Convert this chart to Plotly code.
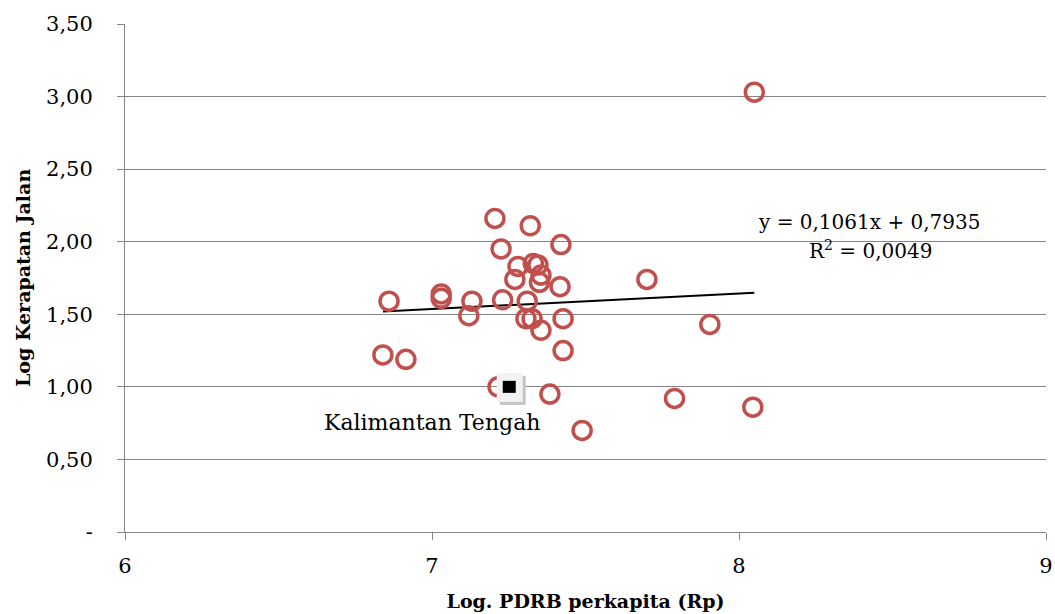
import plotly.graph_objects as go

# Data
log_pdrb = [6.86, 6.84, 6.915, 7.03, 7.03, 7.13, 7.12, 7.205, 7.225, 7.23,
            7.215, 7.32, 7.27, 7.28, 7.33, 7.345, 7.355, 7.35, 7.306, 7.326,
            7.31, 7.355, 7.42, 7.417, 7.427, 7.427, 7.384, 7.489, 7.70, 7.79,
            7.905, 8.05, 8.045]
log_jalan = [1.59, 1.22, 1.19, 1.64, 1.61, 1.59, 1.49, 2.16, 1.95, 1.60,
             1.00, 2.11, 1.74, 1.83, 1.85, 1.84, 1.77, 1.72, 1.47, 1.47,
             1.59, 1.39, 1.98, 1.69, 1.47, 1.25, 0.95, 0.70, 1.74, 0.92,
             1.43, 3.03, 0.86]

highlight_name = "Kalimantan Tengah"
highlight_x = [7.25]
highlight_y = [1.00]

slope = 0.1061
intercept = 0.7935
r2_text = "R<sup>2</sup> = 0,0049"
eq_text = "y = 0,1061x + 0,7935"

y_title = "Log Kerapatan Jalan"
x_title = "Log. PDRB perkapita (Rp)"
y_tickvals = [0, 0.5, 1.0, 1.5, 2.0, 2.5, 3.0, 3.5]
y_ticktext = ["-", "0,50", "1,00", "1,50", "2,00", "2,50", "3,00", "3,50"]
x_tickvals = [6, 7, 8, 9]
x_ticktext = ["6", "7", "8", "9"]

FONT = "DejaVu Serif"
W, H = 1055, 614
ML, MR, MT, MB = 125, 9, 24, 82
PW, PH = W - ML - MR, H - MT - MB

fig = go.Figure()

# trend line
x_min, x_max = min(log_pdrb), max(log_pdrb)
fig.add_trace(go.Scatter(
    x=[x_min, x_max], y=[slope * x_min + intercept, slope * x_max + intercept],
    mode="lines", line=dict(color="black", width=2), hoverinfo="skip", showlegend=False))

fig.add_trace(go.Scatter(
    x=log_pdrb, y=log_jalan, mode="markers",
    marker=dict(symbol="circle-open", size=18, color="#C0504D",
                line=dict(width=3.5, color="#C0504D")),
    showlegend=False))

# highlighted point: shadow, light box, black square (anchored at the data point)
hx, hy = highlight_x[0], highlight_y[0]
for (x0, x1, y0, y1, col) in [(-9, 17, -18, 11, "#C4C4C4"),
                              (-12, 14, -15, 14, "#F2F2F2"),
                              (-6, 7, -6, 6, "#000000")]:
    fig.add_shape(type="rect", xref="x", yref="y", xsizemode="pixel", ysizemode="pixel",
                  xanchor=hx, yanchor=hy, x0=x0, x1=x1, y0=y0, y1=y1,
                  fillcolor=col, line=dict(width=0), layer="above")
fig.add_trace(go.Scatter(x=highlight_x, y=highlight_y, mode="markers",
                         marker=dict(size=12, color="rgba(0,0,0,0)"),
                         name=highlight_name, showlegend=False))

fig.add_annotation(x=hx, y=hy, text=highlight_name,
                   showarrow=False, xanchor="center", yanchor="middle",
                   xshift=-77, yshift=-36,
                   font=dict(family=FONT, size=22, color="black"))

fig.add_annotation(x=(869 - ML) / PW, y=(MT + PH - 222) / PH, xref="x domain", yref="y domain",
                   text=eq_text, showarrow=False, xanchor="center", yanchor="middle",
                   font=dict(family=FONT, size=20, color="black"))
fig.add_annotation(x=(870 - ML) / PW, y=(MT + PH - 250) / PH, xref="x domain", yref="y domain",
                   text=r2_text, showarrow=False, xanchor="center", yanchor="middle",
                   font=dict(family=FONT, size=20, color="black"))

# y-axis title as rotated annotation (paper coords are relative to plot area)
fig.add_annotation(x=(23 - ML) / PW, y=(MT + PH - 278) / PH, xref="paper", yref="paper",
                   text="<b>" + y_title + "</b>", textangle=-90, showarrow=False,
                   xanchor="center", yanchor="middle",
                   font=dict(family=FONT, size=19, color="black"))

fig.update_layout(
    width=W, height=H,
    margin=dict(l=ML, r=MR, t=MT, b=MB, autoexpand=False),
    paper_bgcolor="white", plot_bgcolor="white",
    font=dict(family=FONT, color="black"),
    xaxis=dict(range=[6, 9], tickvals=x_tickvals, ticktext=x_ticktext,
               automargin=False,
               showgrid=False, zeroline=False, showline=True, linecolor="#868686",
               linewidth=1, ticks="outside", ticklen=7, tickcolor="#868686",
               ticklabelstandoff=8,
               tickfont=dict(family=FONT, size=21),
               title=dict(text="<b>" + x_title + "</b>", standoff=17,
                          font=dict(family=FONT, size=19))),
    yaxis=dict(range=[0, 3.5], tickvals=y_tickvals, ticktext=y_ticktext,
               automargin=False,
               showgrid=True, gridcolor="#868686", gridwidth=1, zeroline=False,
               showline=True, linecolor="#868686", linewidth=1,
               ticks="outside", ticklen=7, tickcolor="#868686",
               ticklabelstandoff=20,
               tickfont=dict(family=FONT, size=21)),
)

fig.write_html("out.html")
